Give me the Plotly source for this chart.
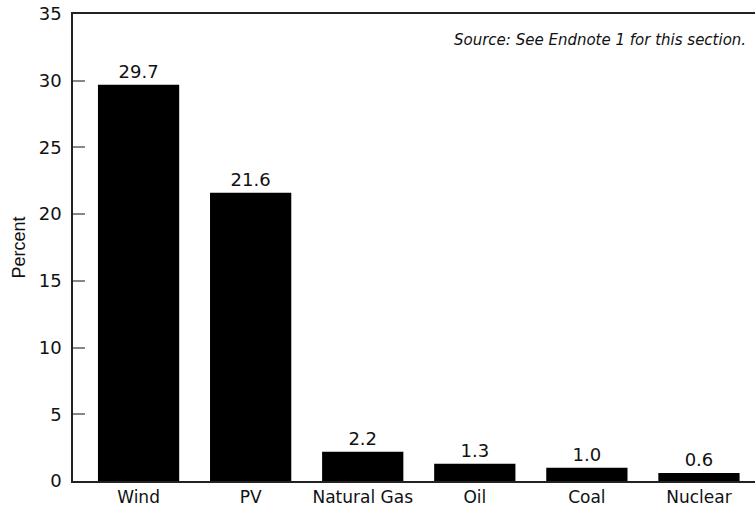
import plotly.graph_objects as go

categories = ["Wind", "PV", "Natural Gas", "Oil", "Coal", "Nuclear"]
values = [29.7, 21.6, 2.2, 1.3, 1.0, 0.6]
value_labels = ["29.7", "21.6", "2.2", "1.3", "1.0", "0.6"]
y_ticks = [0, 5, 10, 15, 20, 25, 30, 35]

FONT = "DejaVu Sans"

fig = go.Figure(go.Bar(
    x=categories, y=values,
    marker=dict(color="black", line=dict(width=0)),
    text=value_labels, textposition="outside",
    textfont=dict(family=FONT, size=18, color="#111"),
    cliponaxis=False,
))

fig.update_layout(
    width=755, height=507,
    margin=dict(l=73, r=0, t=14, b=26),
    plot_bgcolor="white", paper_bgcolor="white",
    bargap=0.275,
    showlegend=False,
    font=dict(family=FONT, size=18, color="#111"),
    xaxis=dict(
        range=[-0.585, 5.5], showline=True, mirror=True,
        linecolor="#222", linewidth=1.5, ticks="", showgrid=False,
        tickfont=dict(family=FONT, size=17, color="#111"),
    ),
    yaxis=dict(
        range=[0, 35], tickvals=y_ticks, showline=True, linecolor="#222",
        linewidth=1.5, ticks="inside", ticklen=12, tickcolor="#888",
        tickwidth=1.5, showgrid=False, zeroline=False,
        ticklabelstandoff=6,
        tickfont=dict(family=FONT, size=18, color="#111"),
        title=dict(text="Percent", font=dict(family="Liberation Sans", size=18, color="#111"), standoff=8),
    ),
    annotations=[dict(
        text="<i>Source: See Endnote 1 for this section.</i>",
        xref="paper", yref="paper", x=(748 - 73) / 682, y=(481 - 40) / 467,
        xanchor="right", yanchor="middle", showarrow=False,
        font=dict(family=FONT, size=15, color="#111"),
    )],
)

fig.write_html("out.html")
